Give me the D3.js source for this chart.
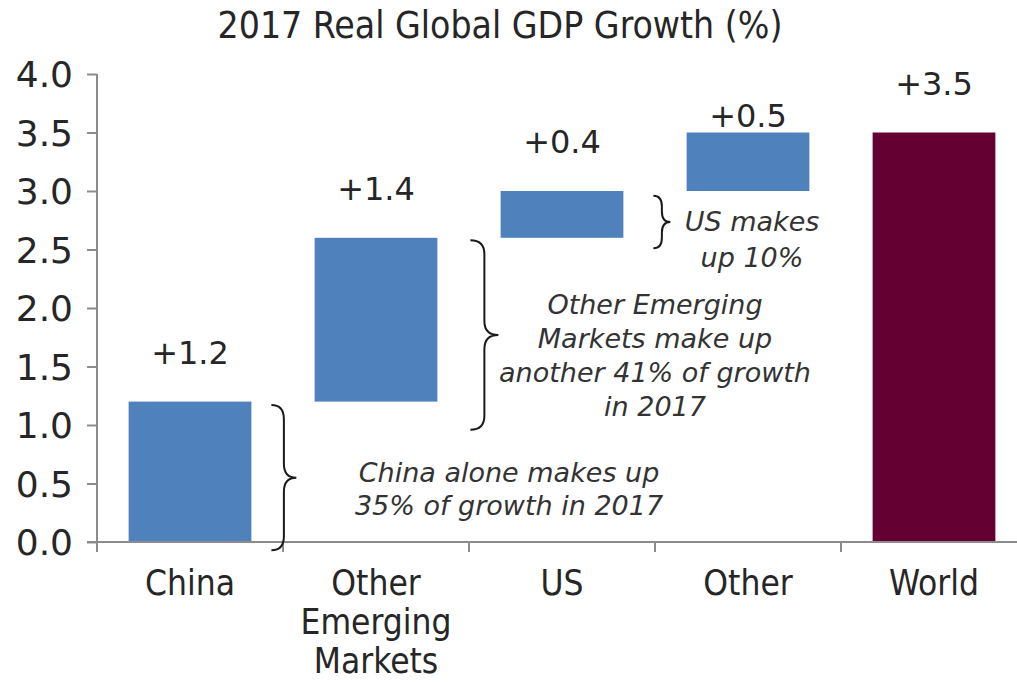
<!DOCTYPE html>
<html>
<head>
<meta charset="utf-8">
<script src="https://cdn.jsdelivr.net/npm/d3@7"></script>
<style>
  html, body { margin: 0; padding: 0; background: #fff; }
  svg { display: block; }
  .cond { font-family: "DejaVu Sans Condensed", "DejaVu Sans", sans-serif; font-stretch: condensed; }
  .verd { font-family: "DejaVu Sans", Verdana, sans-serif; }
</style>
</head>
<body>
<svg id="chart" width="1017" height="682"></svg>
<script>
// Contributions to 2017 real global GDP growth (percentage points)
const categories = ["China", "Other Emerging Markets", "US", "Other", "World"];
const categoryLines = [["China"], ["Other", "Emerging", "Markets"], ["US"], ["Other"], ["World"]];
const contributions = [1.2, 1.4, 0.4, 0.5, 3.5];
const isTotal = [false, false, false, false, true];
const valueLabels = ["+1.2", "+1.4", "+0.4", "+0.5", "+3.5"];
const yTicks = [0, 0.5, 1, 1.5, 2, 2.5, 3, 3.5, 4];

// Brace annotations: which bar they sit beside, vertical span (in % units) and text lines
const notes = [
  { cat: "China", from: 1.17, to: -0.07, lines: ["China alone makes up", "35% of growth in 2017"] },
  { cat: "Other Emerging Markets", from: 2.58, to: 0.96, lines: ["Other Emerging", "Markets make up", "another 41% of growth", "in 2017"] },
  { cat: "US", from: 2.96, to: 2.51, lines: ["US makes", "up 10%"] }
];

const W = 1017, H = 682;
const svg = d3.select("#chart");

// Waterfall steps
let run = 0;
const bars = categories.map((c, i) => {
  const v = contributions[i];
  let lo, hi;
  if (isTotal[i]) { lo = 0; hi = v; }
  else { lo = run; hi = run + v; run = hi; }
  return { cat: c, lo, hi, label: valueLabels[i], total: isTotal[i], lines: categoryLines[i] };
});

const x = d3.scaleBand().domain(categories).range([97, 1027]).paddingInner(0.34).paddingOuter(0.17);
const y = d3.scaleLinear().domain([0, 4]).range([542, 74]);

const axisColor = "#8c8c8c";
const textColor = "#262626";

// Title
svg.append("text").attr("class", "cond")
  .attr("x", 500).attr("y", 38)
  .attr("text-anchor", "middle")
  .attr("font-size", 37).attr("fill", textColor)
  .text("2017 Real Global GDP Growth (%)");

// Bars
svg.append("g").selectAll("rect").data(bars).join("rect")
  .attr("x", d => x(d.cat))
  .attr("width", x.bandwidth())
  .attr("y", d => y(d.hi))
  .attr("height", d => y(d.lo) - y(d.hi))
  .attr("fill", d => d.total ? "#650033" : "#4f81bd");

// Value labels above each bar
const labelGap = { "Other": 6 };
svg.append("g").selectAll("text").data(bars).join("text")
  .attr("class", "verd")
  .attr("x", d => x(d.cat) + x.bandwidth() / 2)
  .attr("y", d => y(d.hi) - (labelGap[d.cat] !== undefined ? labelGap[d.cat] : 38))
  .attr("text-anchor", "middle")
  .attr("font-size", 32).attr("fill", textColor)
  .text(d => d.label);

// Y axis
const yAxis = d3.axisLeft(y).tickValues(yTicks).tickFormat(d3.format(".1f")).tickSize(10).tickSizeOuter(0).tickPadding(14);
const gy = svg.append("g").attr("transform", "translate(97,0)").call(yAxis);
gy.select(".domain").attr("stroke", axisColor).attr("stroke-width", 2)
  .attr("d", `M0,${y(4)}V${y(0) + 10}`);
gy.selectAll(".tick line").attr("stroke", axisColor).attr("stroke-width", 2);
gy.selectAll(".tick text").attr("class", "verd").attr("font-size", 36).attr("fill", textColor)
  .attr("font-family", null).attr("dy", "0.36em");

// X axis: baseline plus tick marks at band boundaries
const step = x.step();
const x0 = x.range()[0];
const gx = svg.append("g");
gx.append("line").attr("x1", 87).attr("x2", W).attr("y1", y(0)).attr("y2", y(0))
  .attr("stroke", axisColor).attr("stroke-width", 2);
gx.selectAll("line.t").data(d3.range(1, categories.length)).join("line").attr("class", "t")
  .attr("x1", i => x0 + i * step).attr("x2", i => x0 + i * step)
  .attr("y1", y(0)).attr("y2", y(0) + 10)
  .attr("stroke", axisColor).attr("stroke-width", 2);

// Category labels
const cl = svg.append("g").selectAll("text").data(bars).join("text")
  .attr("class", "cond")
  .attr("text-anchor", "middle")
  .attr("font-size", 35).attr("fill", textColor);
cl.each(function (d) {
  const t = d3.select(this);
  d.lines.forEach((ln, j) => {
    t.append("tspan").attr("x", x(d.cat) + x.bandwidth() / 2).attr("y", 595 + j * 39).text(ln);
  });
});

// Curly brace path, opening left, tip pointing right
function bracePath(bx, top, bottom, w) {
  const mid = (top + bottom) / 2;
  const r = Math.min(14, (bottom - top) / 5);
  const cx = bx + w * 0.5;
  return `M${bx},${top} Q${cx},${top} ${cx},${top + r} L${cx},${mid - r} Q${cx},${mid} ${bx + w},${mid}` +
         ` Q${cx},${mid} ${cx},${mid + r} L${cx},${bottom - r} Q${cx},${bottom} ${bx},${bottom}`;
}

const braceCfg = {
  "China": { dx: 20, w: 25, tx: 509, ty: 482, lh: 33 },
  "Other Emerging Markets": { dx: 33, w: 28, tx: 655, ty: 314, lh: 34 },
  "US": { dx: 30, w: 17, tx: 752, ty: 231, lh: 36 }
};

const ng = svg.append("g");
notes.forEach(n => {
  const cfg = braceCfg[n.cat];
  const bx = x(n.cat) + x.bandwidth() + cfg.dx;
  ng.append("path")
    .attr("d", bracePath(bx, y(n.from), y(n.to), cfg.w))
    .attr("fill", "none").attr("stroke", "#1a1a1a").attr("stroke-width", 2);
  const t = ng.append("text").attr("class", "verd")
    .attr("font-style", "italic").attr("font-size", 27)
    .attr("text-anchor", "middle").attr("fill", "#333");
  n.lines.forEach((ln, j) => {
    t.append("tspan").attr("x", cfg.tx).attr("y", cfg.ty + j * cfg.lh).text(ln);
  });
});
</script>
</body>
</html>
